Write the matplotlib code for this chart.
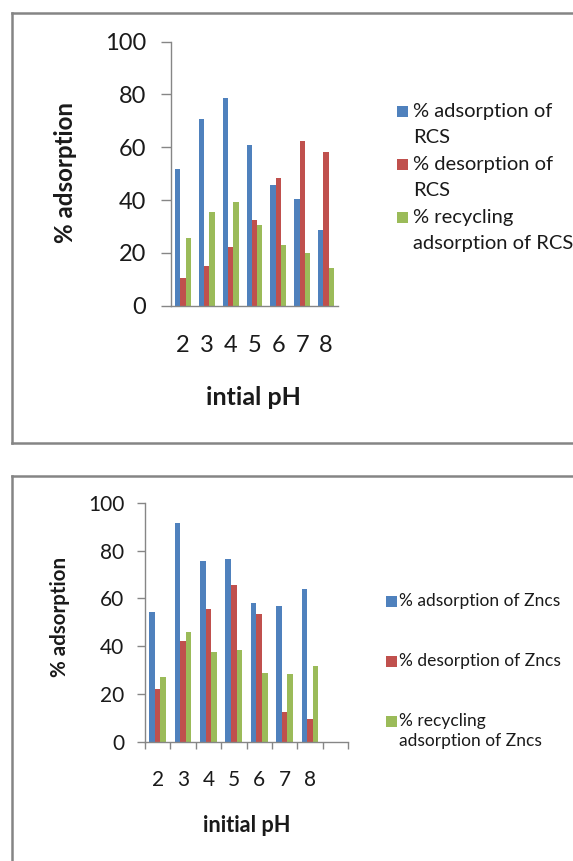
import matplotlib
matplotlib.use("Agg")
import matplotlib.pyplot as plt
from matplotlib.lines import Line2D
from matplotlib.patches import Rectangle
import numpy as np

# data
ph = ["2", "3", "4", "5", "6", "7", "8"]

rcs_adsorption = [51.6, 70.6, 78.5, 60.7, 45.6, 40.3, 28.5]
rcs_desorption = [10.6, 14.9, 22.3, 32.3, 48.4, 62.5, 58.3]
rcs_recycling = [25.6, 35.6, 39.4, 30.4, 22.9, 20.1, 14.4]

zn_adsorption = [54.4, 91.7, 75.7, 76.6, 58.1, 56.7, 64.0]
zn_desorption = [22.3, 42.1, 55.4, 65.8, 53.5, 12.4, 9.6]
zn_recycling = [27.0, 45.9, 37.8, 38.4, 28.9, 28.4, 31.7]

rcs_legend = [["% adsorption of", "RCS"],
              ["% desorption of", "RCS"],
              ["% recycling", "adsorption of RCS"]]
zn_legend = [["% adsorption of Zncs", "", ""],
             ["% desorption of Zncs", "", ""],
             ["% recycling", "adsorption of Zncs"]]

colors = ["#4F81BD", "#C0504D", "#9BBB59"]
axis_col = "#868686"
frame_col = "#858585"
text_col = "#1a1a1a"

plt.rcParams["font.family"] = ["Lato", "DejaVu Sans"]

W, H = 573, 861
fig = plt.figure(figsize=(W / 100, H / 100), dpi=100)


def fx(x):
    return x / W


def fy(y):
    return 1 - y / H


def frame_line(x0, y0, x1, y1):
    fig.add_artist(Line2D([fx(x0), fx(x1)], [fy(y0), fy(y1)],
                          transform=fig.transFigure, color=frame_col, lw=1.8))


# panel frames (cropped on the right in the original)
frame_line(12, 13, 580, 13)
frame_line(12, 13, 12, 443)
frame_line(12, 443, 580, 443)
frame_line(12, 476, 580, 476)
frame_line(12, 476, 12, 870)


def draw_panel(ax, series, nslots, ytick_size, ylen, ypad, xtick_size, xpad):
    x = np.arange(len(ph))
    w = 0.22
    for i, (vals, c) in enumerate(zip(series, colors)):
        ax.bar(x + (i - 1) * w, vals, w, color=c, zorder=2)
    ax.set_xlim(-0.5, nslots - 0.5)
    ax.set_ylim(0, 100)
    ax.set_yticks(range(0, 101, 20))
    ax.set_xticks(x)
    ax.set_xticklabels(ph)
    for s in ["top", "right"]:
        ax.spines[s].set_visible(False)
    for s in ["left", "bottom"]:
        ax.spines[s].set_color(axis_col)
        ax.spines[s].set_linewidth(1.0)
    ax.tick_params(axis="y", direction="out", length=ylen, width=1.0, color=axis_col,
                   labelsize=ytick_size, pad=ypad, labelcolor=text_col)
    ax.tick_params(axis="x", length=0, labelsize=xtick_size, pad=xpad, labelcolor=text_col)
    ax.patch.set_alpha(0)


def draw_legend(entries, x_box, x_text, y_first, row, fs):
    k = 0
    for entry, c in zip(entries, colors):
        yy = y_first + k * row
        fig.add_artist(Rectangle((fx(x_box), fy(yy + 5.5)), 11 / W, 11 / H,
                                 transform=fig.transFigure, color=c, lw=0))
        for j, line in enumerate(entry):
            if line:
                fig.text(fx(x_text), fy(y_first + (k + j) * row), line, fontsize=fs,
                         color=text_col, ha="left", va="center")
        k += len(entry)


# top panel: RCS
ax1 = fig.add_axes([fx(171), fy(305.7), (338 - 171) / W, (305.7 - 41.7) / H])
draw_panel(ax1, [rcs_adsorption, rcs_desorption, rcs_recycling], 7,
           17, 7, 11, 17, 21)
ax1.set_xlabel("intial pH", fontsize=18, fontweight="bold", color=text_col, va="center")
ax1.xaxis.set_label_coords(0.494, -0.346)
ax1.set_ylabel("% adsorption", fontsize=17.4, fontweight="bold", color=text_col, va="center")
ax1.yaxis.set_label_coords(-0.629, 0.5045)
draw_legend(rcs_legend, 397, 413, 111, 26.6, 14.5)

# bottom panel: Zncs (one empty slot at the end)
ax2 = fig.add_axes([fx(145), fy(742), (348 - 145) / W, (742 - 502.7) / H])
draw_panel(ax2, [zn_adsorption, zn_desorption, zn_recycling], 8,
           15, 5.8, 9, 15, 20)
ax2.set_xticks(np.arange(-0.5, 8, 1), minor=True)
ax2.tick_params(axis="x", which="minor", direction="out", length=5, width=1.0, color=axis_col)
ax2.set_xlabel("initial pH", fontsize=15.7, fontweight="bold", color=text_col, va="center")
ax2.xaxis.set_label_coords(0.501, -0.351)
ax2.set_ylabel("% adsorption", fontsize=14.8, fontweight="bold", color=text_col, va="center")
ax2.yaxis.set_label_coords(-0.419, 0.522)
draw_legend(zn_legend, 386, 399, 601, 20, 12.5)

fig.savefig("out.png", dpi=100)
